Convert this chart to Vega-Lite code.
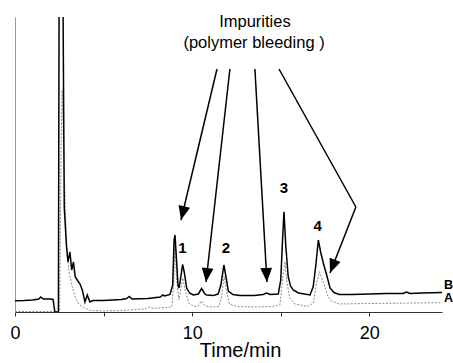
{
  "$schema": "https://vega.github.io/schema/vega-lite/v6.json",
  "width": 427,
  "height": 295,
  "autosize": {"type": "none"},
  "padding": {"left": 15, "top": 17, "right": 11, "bottom": 51},
  "background": "white",
  "config": {"view": {"stroke": null}, "font": "Liberation Sans"},
  "datasets": {
    "traceB": [
      {"t":0.0,"v":11.3},{"t":0.5,"v":11.5},{"t":1.0,"v":12},{"t":1.35,"v":13},{"t":1.45,"v":15},{"t":1.6,"v":13},{"t":2.0,"v":13},{"t":2.15,"v":12.5},{"t":2.2,"v":6},{"t":2.25,"v":0},{"t":2.45,"v":0},{"t":2.5,"v":400},{"t":2.68,"v":400},{"t":2.78,"v":105},{"t":2.9,"v":67},{"t":2.99,"v":50},{"t":3.1,"v":60},{"t":3.2,"v":42},{"t":3.3,"v":50},{"t":3.4,"v":35},{"t":3.55,"v":31},{"t":3.67,"v":28},{"t":3.8,"v":22},{"t":3.95,"v":10},{"t":4.08,"v":17},{"t":4.23,"v":10},{"t":4.4,"v":11.5},{"t":5.0,"v":11.5},{"t":6.0,"v":12.5},{"t":6.3,"v":13.5},{"t":6.45,"v":15.5},{"t":6.6,"v":13},{"t":7.5,"v":13.5},{"t":8.2,"v":15},{"t":8.35,"v":17},{"t":8.45,"v":16},{"t":8.75,"v":17.5},{"t":8.9,"v":27},{"t":8.98,"v":72},{"t":9.03,"v":77},{"t":9.1,"v":57},{"t":9.2,"v":27},{"t":9.26,"v":24},{"t":9.35,"v":34},{"t":9.46,"v":47.5},{"t":9.55,"v":40},{"t":9.69,"v":24},{"t":9.85,"v":19},{"t":10.06,"v":17},{"t":10.35,"v":18},{"t":10.53,"v":23.5},{"t":10.7,"v":18.5},{"t":10.82,"v":17},{"t":11.2,"v":16.5},{"t":11.47,"v":18},{"t":11.62,"v":27},{"t":11.79,"v":47},{"t":11.92,"v":34},{"t":12.04,"v":21},{"t":12.3,"v":17.5},{"t":12.7,"v":16.5},{"t":13.5,"v":16.5},{"t":14.0,"v":17.5},{"t":14.2,"v":19},{"t":14.4,"v":17.5},{"t":14.86,"v":18},{"t":15.0,"v":32},{"t":15.1,"v":72},{"t":15.18,"v":100.3},{"t":15.28,"v":67},{"t":15.42,"v":35.3},{"t":15.55,"v":26},{"t":15.7,"v":22},{"t":16.0,"v":19},{"t":16.65,"v":17},{"t":16.83,"v":25.3},{"t":16.98,"v":47},{"t":17.12,"v":72},{"t":17.25,"v":60},{"t":17.4,"v":49},{"t":17.59,"v":37},{"t":17.78,"v":24},{"t":18.0,"v":19.5},{"t":18.3,"v":17.5},{"t":19.0,"v":17.5},{"t":20.0,"v":18},{"t":21.0,"v":18.5},{"t":21.9,"v":18.5},{"t":22.1,"v":20},{"t":22.3,"v":18.5},{"t":23.0,"v":19},{"t":24.1,"v":19.5}
    ],
    "traceA": [
      {"t":0.0,"v":0.5},{"t":2.4,"v":0.5},{"t":2.52,"v":1},{"t":2.6,"v":162},{"t":2.66,"v":222},{"t":2.75,"v":162},{"t":2.85,"v":97},{"t":2.95,"v":57},{"t":3.05,"v":40},{"t":3.2,"v":27},{"t":3.4,"v":15},{"t":3.6,"v":8},{"t":3.9,"v":4},{"t":4.3,"v":1.5},{"t":5.0,"v":1},{"t":6.0,"v":1.5},{"t":7.3,"v":3},{"t":7.6,"v":5},{"t":7.8,"v":3.5},{"t":8.5,"v":4.5},{"t":8.85,"v":5},{"t":8.95,"v":27},{"t":9.03,"v":67},{"t":9.12,"v":32},{"t":9.25,"v":12},{"t":9.35,"v":22},{"t":9.47,"v":34},{"t":9.6,"v":22},{"t":9.8,"v":9},{"t":10.1,"v":5.5},{"t":10.35,"v":6},{"t":10.53,"v":11},{"t":10.7,"v":6.5},{"t":11.0,"v":5},{"t":11.5,"v":5.5},{"t":11.65,"v":14},{"t":11.8,"v":36},{"t":11.95,"v":20},{"t":12.1,"v":8},{"t":12.5,"v":5.5},{"t":13.5,"v":5},{"t":14.5,"v":5.5},{"t":14.95,"v":7},{"t":15.1,"v":32},{"t":15.24,"v":50.3},{"t":15.35,"v":30},{"t":15.5,"v":14},{"t":15.8,"v":8},{"t":16.5,"v":5.5},{"t":16.85,"v":9},{"t":17.0,"v":27},{"t":17.18,"v":40.3},{"t":17.35,"v":32},{"t":17.5,"v":25},{"t":17.65,"v":16},{"t":17.85,"v":11},{"t":18.3,"v":8},{"t":20.0,"v":8.5},{"t":24.1,"v":9.3}
    ],
    "arrows": [
      {"t":11.40,"v":243,"t2":9.37,"v2":92},
      {"t":12.13,"v":243,"t2":10.78,"v2":30},
      {"t":13.54,"v":243,"t2":14.22,"v2":30},
      {"t":14.90,"v":243,"t2":19.24,"v2":105},
      {"t":19.24,"v":105,"t2":17.78,"v2":39}
    ],
    "heads": [
      {"t":9.37,"v":92,"a":13.4},
      {"t":10.78,"v":30,"a":6.7},
      {"t":14.22,"v":30,"a":-3.2},
      {"t":17.78,"v":39,"a":21.2}
    ],
    "peaks": [
      {"t":9.45,"v":64.5,"label":"1"},
      {"t":11.9,"v":64.5,"label":"2"},
      {"t":15.18,"v":124,"label":"3"},
      {"t":17.08,"v":86,"label":"4"}
    ],
    "notes": [
      {"t":13.54,"v":290,"label":"Impurities"},
      {"t":13.49,"v":269.5,"label":"(polymer bleeding )"}
    ],
    "traces": [
      {"t":24.21,"v":27.5,"label":"B"},
      {"t":24.21,"v":14,"label":"A"}
    ]
  },
  "layer": [
    {
      "data": {"name": "traceA"},
      "mark": {"type": "line", "color": "#8c8c8c", "strokeWidth": 1, "strokeDash": [2, 1.5], "clip": true},
      "encoding": {
        "x": {"field": "t", "type": "quantitative", "scale": {"domain": [0, 24.1], "nice": false, "zero": false},
          "axis": {"values": [0, 5, 10, 15, 20], "labelExpr": "datum.value % 10 === 0 ? datum.label : ''", "grid": false, "tickSize": 4, "labelFontSize": 18, "labelPadding": 8, "labelFlush": false, "labelOverlap": false, "labelColor": "black", "title": "Time/min", "titleFontSize": 20, "titleFontWeight": "normal", "titleColor": "black", "titleX": 225, "titleY": 44, "titleBaseline": "alphabetic", "titleAlign": "center", "titleAnchor": null, "domainColor": "#333", "tickColor": "#333", "domainWidth": 1.2}},
        "y": {"field": "v", "type": "quantitative", "scale": {"domain": [0, 295], "nice": false, "zero": false},
          "axis": {"ticks": false, "labels": false, "grid": false, "title": null, "domainColor": "#999", "domainWidth": 1}}
      }
    },
    {
      "data": {"name": "traceB"},
      "mark": {"type": "line", "color": "black", "strokeWidth": 1.5, "clip": true},
      "encoding": {
        "x": {"field": "t", "type": "quantitative"},
        "y": {"field": "v", "type": "quantitative"}
      }
    },
    {
      "data": {"name": "arrows"},
      "mark": {"type": "rule", "color": "black", "strokeWidth": 1.5},
      "encoding": {
        "x": {"field": "t", "type": "quantitative"},
        "y": {"field": "v", "type": "quantitative"},
        "x2": {"field": "t2"},
        "y2": {"field": "v2"}
      }
    },
    {
      "data": {"name": "heads"},
      "mark": {"type": "point", "shape": "M0,0L-0.42,-1L0.42,-1Z", "filled": true, "color": "black", "opacity": 1, "size": 784, "strokeWidth": 0},
      "encoding": {
        "x": {"field": "t", "type": "quantitative"},
        "y": {"field": "v", "type": "quantitative"},
        "angle": {"field": "a", "type": "quantitative", "scale": null}
      }
    },
    {
      "data": {"name": "peaks"},
      "mark": {"type": "text", "fontSize": 15, "fontWeight": "bold", "color": "black", "baseline": "middle", "align": "center"},
      "encoding": {
        "x": {"field": "t", "type": "quantitative"},
        "y": {"field": "v", "type": "quantitative"},
        "text": {"field": "label"}
      }
    },
    {
      "data": {"name": "notes"},
      "mark": {"type": "text", "fontSize": 16.5, "color": "black", "baseline": "middle", "align": "center"},
      "encoding": {
        "x": {"field": "t", "type": "quantitative"},
        "y": {"field": "v", "type": "quantitative"},
        "text": {"field": "label"}
      }
    },
    {
      "data": {"name": "traces"},
      "mark": {"type": "text", "fontSize": 12.5, "fontWeight": "bold", "color": "black", "baseline": "middle", "align": "left"},
      "encoding": {
        "x": {"field": "t", "type": "quantitative"},
        "y": {"field": "v", "type": "quantitative"},
        "text": {"field": "label"}
      }
    }
  ]
}
